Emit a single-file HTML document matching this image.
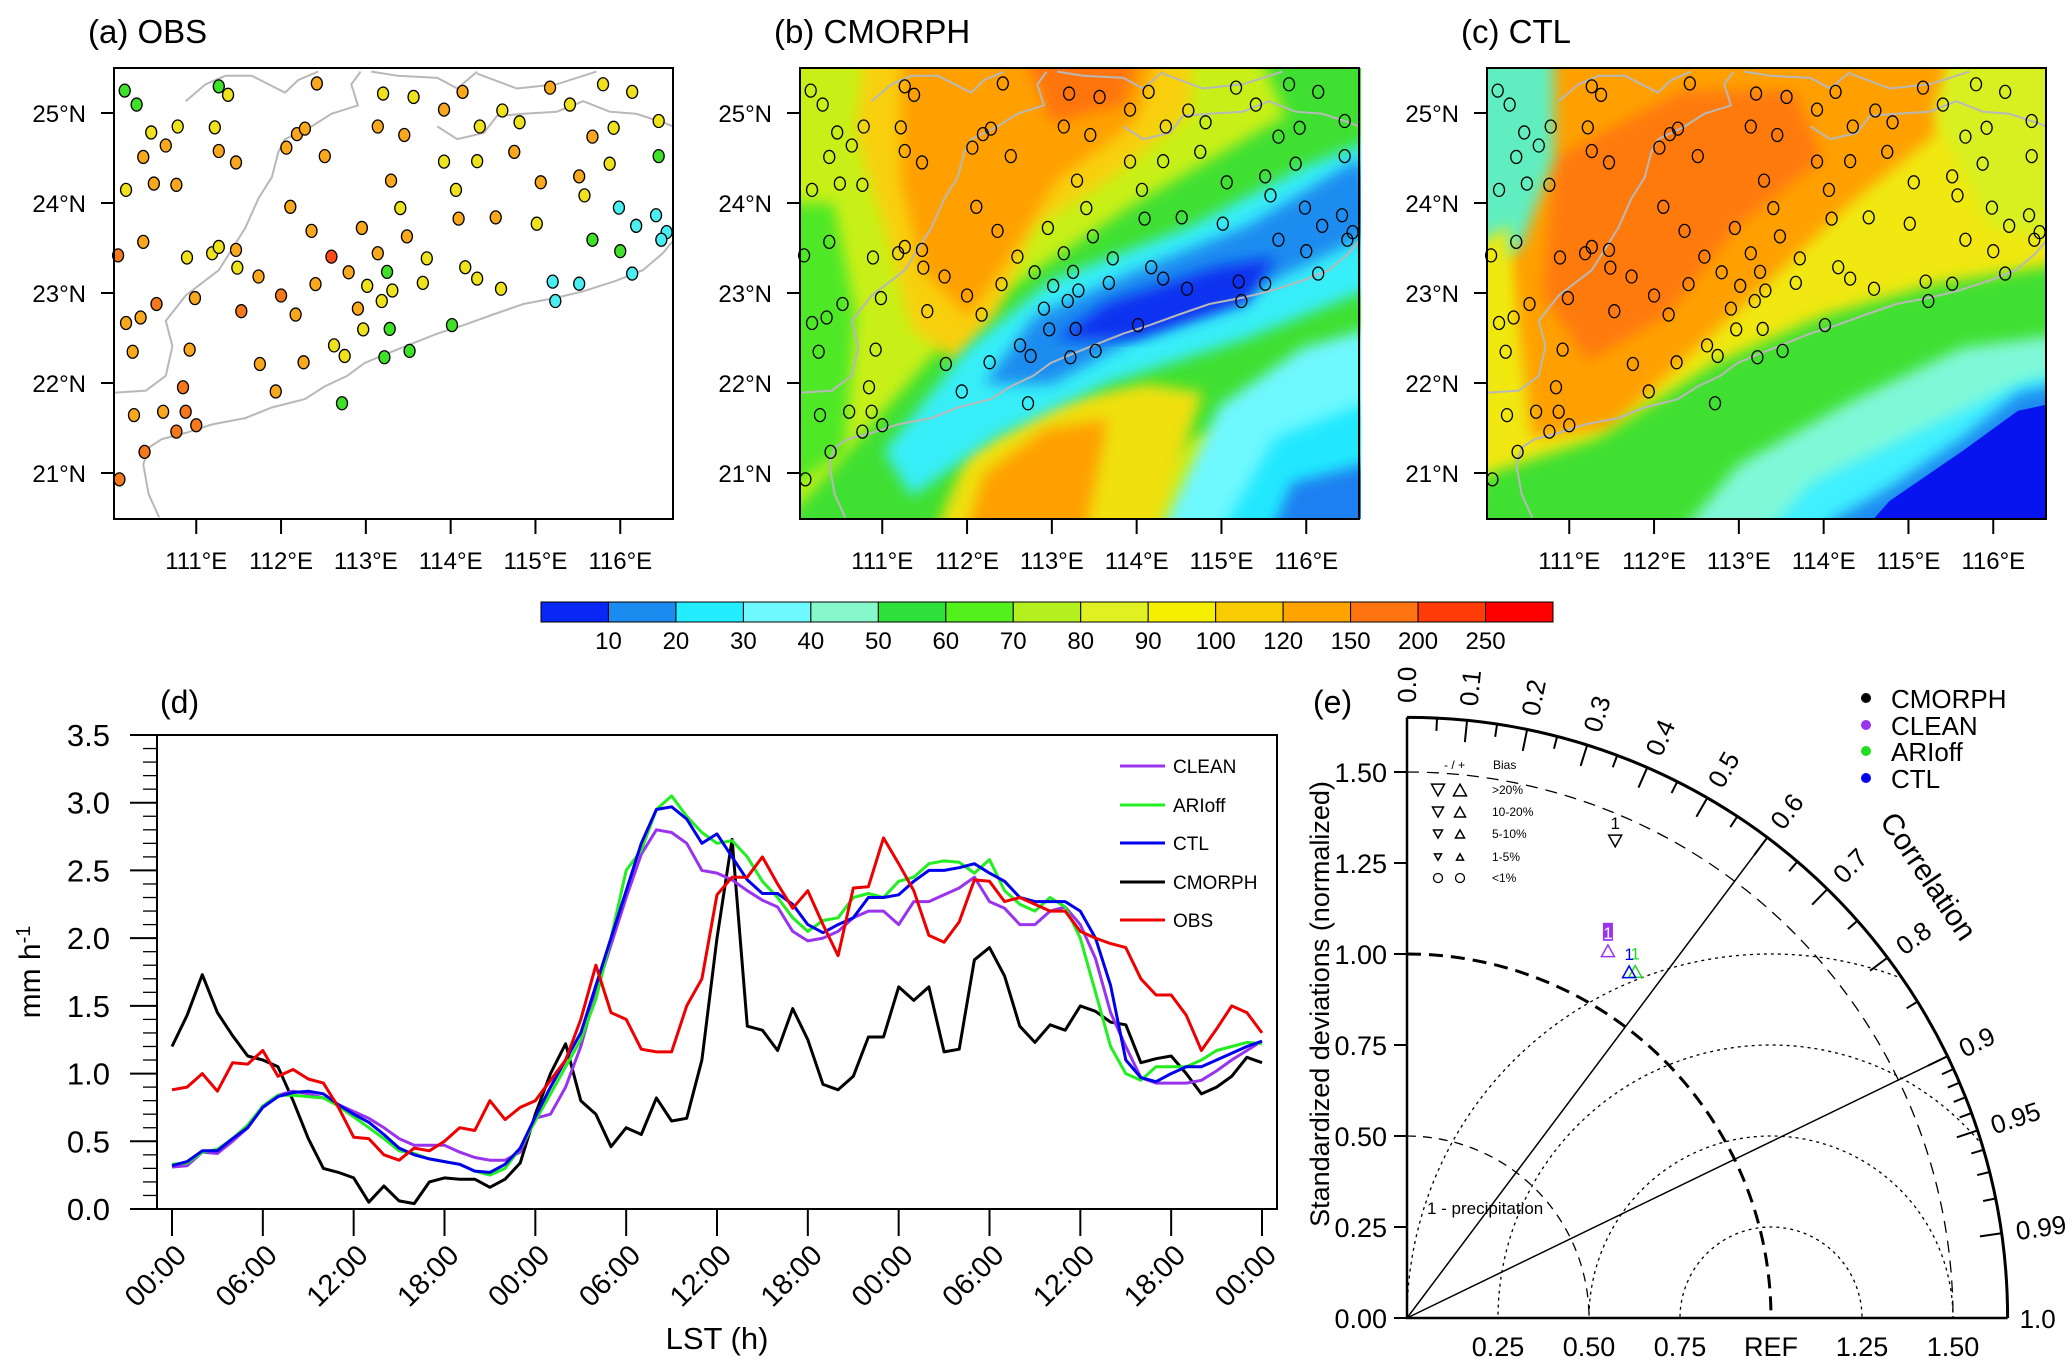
<!DOCTYPE html>
<html><head><meta charset="utf-8"><style>
html,body{margin:0;padding:0;background:#fff;width:2067px;height:1370px;overflow:hidden;}
svg{display:block;font-family:"Liberation Sans",Arial,sans-serif;}
</style></head><body>
<svg id="fig" width="2067" height="1370" viewBox="0 0 2067 1370" xmlns="http://www.w3.org/2000/svg">
<defs>
<filter id="blur6" x="-10%" y="-10%" width="120%" height="120%"><feGaussianBlur stdDeviation="7"/></filter>
<clipPath id="clipA"><rect x="114" y="68" width="559" height="451"/></clipPath>
<clipPath id="clipB"><rect x="800" y="68" width="561" height="451"/></clipPath>
<clipPath id="clipC"><rect x="1487" y="68" width="560" height="451"/></clipPath>
<clipPath id="clipT"><path d="M1407,1318 L2007,1318 A600,600 0 0 0 1407,718 Z"/></clipPath>
</defs>
<g id="maps"></g>
<g id="cbar"></g>
<g id="lineChart"></g>
<g id="taylor"></g>
</svg>
<script>
// ===== Line chart data (panel d), hourly values, 0..72 h =====
const hourTicks = ["00:00","06:00","12:00","18:00","00:00","06:00","12:00","18:00","00:00","06:00","12:00","18:00","00:00"];
const yTicks = [0.0,0.5,1.0,1.5,2.0,2.5,3.0,3.5];
const obsVals = [0.88,0.9,1.0,0.87,1.08,1.07,1.17,0.98,1.03,0.96,0.93,0.75,0.53,0.52,0.4,0.36,0.45,0.43,0.5,0.6,0.58,0.8,0.66,0.75,0.8,0.95,1.1,1.4,1.8,1.45,1.4,1.18,1.16,1.16,1.5,1.7,2.32,2.45,2.45,2.6,2.4,2.22,2.35,2.1,1.87,2.37,2.38,2.74,2.55,2.35,2.02,1.97,2.12,2.43,2.42,2.27,2.3,2.25,2.2,2.2,2.05,2.0,1.96,1.93,1.7,1.58,1.58,1.43,1.17,1.33,1.5,1.45,1.3];
const cmorphVals = [1.2,1.43,1.73,1.45,1.28,1.13,1.1,1.05,0.8,0.52,0.3,0.27,0.23,0.05,0.17,0.06,0.04,0.2,0.23,0.22,0.22,0.16,0.22,0.34,0.7,1.0,1.22,0.8,0.7,0.46,0.6,0.55,0.82,0.65,0.67,1.1,2.0,2.73,1.35,1.32,1.17,1.48,1.25,0.92,0.88,0.98,1.27,1.27,1.64,1.54,1.64,1.16,1.18,1.84,1.93,1.72,1.35,1.23,1.36,1.32,1.5,1.46,1.38,1.36,1.08,1.11,1.13,1.0,0.85,0.9,0.98,1.12,1.08];
const ctlVals = [0.32,0.35,0.43,0.43,0.52,0.6,0.75,0.83,0.86,0.87,0.85,0.77,0.7,0.64,0.55,0.45,0.4,0.37,0.35,0.33,0.28,0.27,0.33,0.45,0.68,0.9,1.1,1.3,1.65,2.0,2.35,2.7,2.95,2.97,2.88,2.7,2.77,2.6,2.43,2.33,2.33,2.25,2.1,2.04,2.1,2.15,2.3,2.3,2.32,2.42,2.5,2.5,2.52,2.55,2.48,2.42,2.3,2.27,2.27,2.27,2.2,2.0,1.65,1.1,0.97,0.94,1.0,1.05,1.05,1.1,1.15,1.2,1.24];
const arioffVals = [0.33,0.34,0.42,0.44,0.52,0.62,0.76,0.84,0.84,0.83,0.82,0.76,0.68,0.6,0.52,0.43,0.41,0.37,0.35,0.33,0.28,0.25,0.3,0.45,0.65,0.85,1.05,1.25,1.55,2.0,2.5,2.65,2.95,3.05,2.9,2.78,2.7,2.72,2.6,2.42,2.3,2.15,2.05,2.13,2.15,2.3,2.33,2.3,2.42,2.45,2.55,2.57,2.56,2.48,2.58,2.35,2.25,2.2,2.3,2.23,2.0,1.6,1.2,1.0,0.95,1.05,1.05,1.05,1.1,1.17,1.2,1.23,1.22];
const cleanVals = [0.31,0.32,0.42,0.41,0.5,0.6,0.76,0.84,0.87,0.85,0.82,0.77,0.72,0.67,0.6,0.52,0.47,0.47,0.47,0.42,0.38,0.36,0.36,0.42,0.67,0.7,0.9,1.2,1.6,1.95,2.3,2.62,2.8,2.78,2.7,2.5,2.48,2.43,2.35,2.28,2.23,2.05,1.98,2.0,2.05,2.15,2.2,2.2,2.1,2.27,2.27,2.32,2.37,2.45,2.27,2.22,2.1,2.1,2.2,2.23,2.1,1.85,1.45,1.2,0.97,0.93,0.93,0.93,0.95,1.02,1.1,1.17,1.24];
const seriesNames = ["CLEAN","ARIoff","CTL","CMORPH","OBS"];

// ===== Taylor diagram data (panel e) =====
const taylorNames = ["CMORPH","CLEAN","ARIoff","CTL"];
const taylorStd = [1.43,1.15,1.14,1.13];
const taylorCorr = [0.40,0.48,0.55,0.54];
const taylorBiasUp = [false,true,true,true];
const corrTicks = [0.0,0.1,0.2,0.3,0.4,0.5,0.6,0.7,0.8,0.9,0.95,0.99];
const stdTicks = [0.0,0.25,0.5,0.75,1.0,1.25,1.5];

// ===== Colorbar =====
const cbarLabels = ["10","20","30","40","50","60","70","80","90","100","120","150","200","250"];
const cbarColors = ["#0a28f5","#1a8cf0","#22eeff","#6ef8ff","#86f8cc","#2ee03a","#52f01c","#b4f020","#e0f020","#f6f000","#f8cc00","#ffa300","#ff7410","#ff3c08","#ff0000"];

const NS="http://www.w3.org/2000/svg";
function mk(tag, attrs, parent){const e=document.createElementNS(NS,tag);for(const k in attrs)e.setAttribute(k,attrs[k]);if(parent)parent.appendChild(e);return e;}
function txt(s, attrs, parent){const e=mk("text",attrs,parent);e.textContent=s;return e;}

// ================= MAPS =================
const maps=document.getElementById("maps");
const stRaw=[[94,215,"g"],[103,248,"g"],[165,205,"g"],[172,225,"y"],[239,198,"o"],[289,222,"y"],[312,230,"y"],[349,218,"o"],[415,208,"o"],[455,200,"y"],[477,218,"y"],[114,314,"y"],[134,300,"y"],[162,302,"y"],[125,345,"o"],[108,372,"o"],[165,358,"o"],[178,385,"o"],[224,318,"o"],[230,305,"o"],[216,350,"o"],[245,370,"o"],[285,300,"o"],[305,320,"o"],[335,260,"o"],[379,262,"y"],[362,300,"y"],[392,290,"y"],[430,248,"y"],[463,303,"y"],[447,324,"o"],[497,287,"y"],[497,370,"g"],[388,360,"o"],[360,382,"y"],[335,383,"y"],[460,388,"y"],[95,450,"y"],[116,435,"o"],[133,438,"o"],[295,428,"o"],[344,450,"y"],[408,432,"o"],[437,418,"o"],[441,463,"y"],[219,490,"o"],[302,493,"y"],[346,518,"o"],[374,515,"o"],[405,530,"y"],[467,492,"c"],[495,510,"c"],[480,535,"c"],[503,550,"c"],[499,568,"c"],[108,573,"o"],[89,605,"o2"],[141,610,"y"],[160,600,"y"],[165,585,"y"],[178,592,"o"],[179,634,"y"],[195,655,"o"],[235,547,"o"],[273,540,"o"],[307,560,"o"],[250,608,"r"],[285,600,"o"],[322,612,"y"],[263,645,"o"],[292,644,"g"],[351,633,"y"],[360,660,"y"],[238,673,"o"],[277,677,"y"],[296,688,"y"],[319,670,"y"],[378,684,"y"],[288,713,"y"],[212,700,"o2"],[147,706,"o"],[118,720,"o2"],[106,752,"o"],[95,765,"o"],[182,737,"o2"],[223,745,"o"],[270,731,"o"],[274,780,"y"],[294,779,"g"],[341,770,"g"],[417,667,"c"],[437,672,"c"],[419,713,"c"],[477,648,"c"],[468,595,"g"],[447,568,"g"],[143,828,"o"],[100,833,"o"],[252,818,"y"],[260,843,"y"],[290,846,"g"],[309,831,"g"],[196,862,"o"],[229,858,"o"],[138,917,"o2"],[208,927,"o"],[258,955,"g"],[101,983,"o"],[123,975,"o"],[140,975,"o2"],[133,1022,"o2"],[148,1007,"o2"],[109,1070,"o2"],[90,1135,"o2"]];
const stCol={g:"#3ee028",y:"#eee21c",o:"#f9a81e",o2:"#f5781c",r:"#ff4a14",c:"#48eef0"};
function toLL(zx,zy){return [111+(zx-148)/64, 25-(zy-268)/213];}
const coastRaw=[[120,1225],[112,1170],[108,1100],[112,1060],[122,1040],[140,1025],[160,1005],[185,990],[205,965],[230,945],[245,915],[262,890],[275,860],[290,840],[310,815],[330,790],[350,770],[372,745],[395,720],[420,705],[440,690],[465,665],[485,640],[500,600],[508,570]];
const borderRaw=[[[86,930],[110,925],[125,890],[130,820],[125,760],[140,700],[165,640],[175,590],[185,540],[195,470],[205,420],[210,360],[215,330],[235,300],[250,270],[270,250],[265,200],[272,170]],[[140,240],[155,200],[170,180],[190,180],[215,220],[225,190],[240,170]],[[280,170],[300,180],[330,185],[345,210],[360,170]],[[330,300],[345,330],[365,315],[375,275],[395,270],[420,265],[440,240],[460,265],[480,270],[500,290],[508,300]],[[360,175],[390,210],[420,200],[450,170]]];

function panelMap(x0, name, title, kind){
  const w=559,h=451,y0=68;
  const g=mk("g",{},maps);
  
  
  const lx=lon=>x0+(lon-110.03)*84.8;
  const ly=lat=>y0+(25.5-lat)*90;
  const clipId=kind==="a"?"clipA":(kind==="b"?"clipB":"clipC");
  const field=mk("g",{"clip-path":"url(#"+clipId+")"},g);
  
  
  function poly(pts,fill,blur){
    const d=pts.map((p,i)=>(i?"L":"M")+(x0+p[0]*w).toFixed(1)+","+(y0+p[1]*h).toFixed(1)).join(" ")+"Z";
    const p=mk("path",{d:d,fill:fill},field);
    if(blur)p.setAttribute("filter","url(#blur6)");
    
    
  }
  if(kind==="a"){
    mk("rect",{x:x0,y:y0,width:w,height:h,fill:"#fff"},field);
  } else if(kind==="b"){
    mk("rect",{x:x0,y:y0,width:w,height:h,fill:"#c8f018"},field);
    poly([[-0.1,1.1],[0.05,0.9],[0.3,0.55],[0.6,0.3],[0.85,0.12],[1.1,0.0],[1.1,0.7],[0.7,0.82],[0.45,1.1]],"#40e030",true);
    poly([[-0.1,0.3],[0.06,0.3],[0.1,0.55],[0.08,0.85],[-0.1,1.0]],"#50e828",true);
    poly([[0.12,-0.1],[0.7,-0.1],[0.7,0.1],[0.55,0.25],[0.42,0.35],[0.35,0.55],[0.28,0.65],[0.2,0.58],[0.15,0.35],[0.1,0.15]],"#f8d010",true);
    poly([[0.18,-0.1],[0.66,-0.1],[0.6,0.12],[0.46,0.25],[0.36,0.45],[0.3,0.55],[0.22,0.45],[0.18,0.25]],"#ffa000",true);
    poly([[0.38,-0.1],[0.62,-0.1],[0.58,0.08],[0.45,0.12]],"#ff7410",true);
    poly([[0.8,-0.1],[1.1,-0.1],[1.1,0.1],[0.9,0.2]],"#40e030",true);
    poly([[0.22,1.1],[0.3,0.85],[0.45,0.74],[0.62,0.7],[0.72,0.72],[0.62,1.1]],"#f0e010",true);
    poly([[0.28,1.1],[0.33,0.9],[0.44,0.8],[0.55,0.78],[0.5,1.1]],"#ffa000",true);
    poly([[0.15,0.85],[0.3,0.62],[0.45,0.47],[0.7,0.35],[0.9,0.22],[1.1,0.12],[1.1,0.45],[0.8,0.6],[0.55,0.7],[0.35,0.82],[0.2,0.95]],"#38eef8",true);
    poly([[0.33,0.7],[0.42,0.55],[0.6,0.45],[0.8,0.35],[1.0,0.2],[1.05,0.35],[0.8,0.5],[0.6,0.6],[0.45,0.7]],"#1a8cf0",true);
    poly([[0.46,0.6],[0.55,0.52],[0.75,0.44],[0.85,0.42],[0.8,0.52],[0.6,0.6]],"#0a30f0",true);
    poly([[0.62,1.1],[0.75,0.75],[0.9,0.62],[1.1,0.55],[1.1,1.1]],"#6ef8ff",true);
    poly([[0.72,1.1],[0.85,0.82],[1.1,0.7],[1.1,1.1]],"#22e8ff",true);
    poly([[0.82,1.1],[0.88,0.92],[1.1,0.85],[1.1,1.1]],"#1a80f0",true);
  } else {
    mk("rect",{x:x0,y:y0,width:w,height:h,fill:"#f0e810"},field);
    poly([[0.0,-0.1],[0.85,-0.1],[0.8,0.15],[0.65,0.3],[0.5,0.48],[0.35,0.65],[0.22,0.8],[0.08,0.82],[0.04,0.4]],"#ffa000",true);
    poly([[0.12,0.2],[0.35,0.05],[0.55,0.05],[0.6,0.2],[0.45,0.35],[0.32,0.55],[0.18,0.65],[0.1,0.5]],"#ff7a10",true);
    poly([[-0.1,-0.1],[0.12,-0.1],[0.12,0.2],[0.06,0.4],[-0.1,0.5]],"#60eec0",true);
    poly([[-0.1,0.45],[0.04,0.35],[0.03,0.7],[-0.1,0.8]],"#f0e810",true);
    poly([[0.85,-0.1],[1.1,-0.1],[1.1,0.4],[0.9,0.35],[0.8,0.1]],"#d8f020",true);
    poly([[-0.1,1.1],[0.0,0.9],[0.2,0.82],[0.4,0.66],[0.6,0.55],[0.8,0.48],[1.1,0.42],[1.1,1.1]],"#40e030",true);
    poly([[0.3,1.1],[0.45,0.88],[0.65,0.74],[0.85,0.62],[1.1,0.58],[1.1,1.1]],"#80f8d8",true);
    poly([[0.45,1.1],[0.58,0.92],[0.78,0.8],[0.95,0.7],[1.1,0.65],[1.1,1.1]],"#40f0ff",true);
    poly([[0.56,1.1],[0.62,1.0],[0.72,0.93],[0.85,0.82],[0.95,0.72],[1.1,0.68],[1.1,1.1]],"#1a8cf0",true);
    poly([[0.62,1.1],[0.72,0.96],[0.85,0.85],[0.95,0.76],[1.1,0.72],[1.1,1.1]],"#0814f0",false);
  }
  const lines=borderRaw.concat([coastRaw]);
  lines.forEach((ln,i)=>{
    const d=ln.map((p,j)=>{const ll=toLL(p[0],p[1]);return (j?"L":"M")+lx(ll[0]).toFixed(1)+","+ly(ll[1]).toFixed(1);}).join(" ");
    const p=mk("path",{d:d,fill:"none",stroke:"#b8b8b8","stroke-width":2,"clip-path":"url(#"+clipId+")"},g);
    
    
  });
  stRaw.forEach(s=>{
    const ll=toLL(s[0],s[1]);
    const c=mk("ellipse",{cx:lx(ll[0]),cy:ly(ll[1]),rx:5.5,ry:6.5,fill:kind==="a"?stCol[s[2]]:"none",stroke:"#000","stroke-width":1.3},g);
    
    
  });
  const box=mk("rect",{x:x0,y:y0,width:w,height:h,fill:"none",stroke:"#000","stroke-width":2},g);
  
  
  for(let lat=21;lat<=25;lat++){
    const t=mk("line",{x1:x0-13,x2:x0,y1:ly(lat),y2:ly(lat),stroke:"#000","stroke-width":2},g);
    
    
    const l=txt(lat+"°N",{x:x0-28,y:ly(lat)+9,"font-size":24,"text-anchor":"end"},g);
    
    
  }
  for(let lon=111;lon<=116;lon++){
    const t=mk("line",{x1:lx(lon),x2:lx(lon),y1:y0+h,y2:y0+h+15,stroke:"#000","stroke-width":2},g);
    
    
    const l=txt(lon+"°E",{x:lx(lon),y:569,"font-size":24,"text-anchor":"middle"},g);
    
    
  }
  const tt=txt(title,{x:x0-26,y:43,"font-size":33},g);
  
  
}
panelMap(114,"map-obs","(a) OBS","a");
panelMap(800,"map-cmorph","(b) CMORPH","b");
panelMap(1487,"map-ctl","(c) CTL","c");

// ================= COLORBAR =================
const cb=document.getElementById("cbar");
const cbX0=541, cbW=(1553-541)/cbarColors.length;
cbarColors.forEach((c,i)=>{
  const r=mk("rect",{x:cbX0+i*cbW,y:602,width:cbW,height:20,fill:c,stroke:"#000","stroke-width":1},cb);
  
  
});
cbarLabels.forEach((s,i)=>{
  const t=txt(s,{x:cbX0+(i+1)*cbW,y:649,"font-size":24,"text-anchor":"middle"},cb);
  
  
});

// ================= LINE CHART =================
const lc=document.getElementById("lineChart");
const L={left:157,right:1277,top:735,bottom:1209};
const xS=h=>172+h*(1090/72);
const yS=v=>L.bottom-v*(L.bottom-L.top)/3.5;
const pd=txt("(d)",{x:160,y:713,"font-size":32},lc);


const frame=mk("rect",{x:L.left,y:L.top,width:L.right-L.left,height:L.bottom-L.top,fill:"none",stroke:"#000","stroke-width":2},lc);


for(let k=0;k<=35;k++){
  const v=k/10, major=(k%5===0);
  const t=mk("line",{x1:L.left-(major?27:14),x2:L.left,y1:yS(v),y2:yS(v),stroke:"#000","stroke-width":major?2:1.3},lc);
  
  
}
yTicks.forEach(v=>{
  const t=txt(v.toFixed(1),{x:110,y:yS(v)+11,"font-size":31,"text-anchor":"end"},lc);
  
  
});
hourTicks.forEach((s,i)=>{
  const x=xS(i*6);
  const t=mk("line",{x1:x,x2:x,y1:L.bottom,y2:L.bottom+27,stroke:"#000","stroke-width":2},lc);
  
  
  const l=txt(s,{x:x+16,y:L.bottom+48,"font-size":29,"text-anchor":"end",transform:"rotate(-45 "+(x+16)+" "+(L.bottom+48)+")"},lc);
  
  
});
const xt=txt("LST (h)",{x:717,y:1349,"font-size":31,"text-anchor":"middle"},lc);


const yt=mk("text",{x:0,y:0,"font-size":30,"text-anchor":"middle",transform:"translate(40 972) rotate(-90)"},lc);


yt.innerHTML='mm h<tspan dy="-10" font-size="20">-1</tspan>';
const seriesData=[cleanVals,arioffVals,ctlVals,cmorphVals,obsVals];
const seriesColors=["#9933ee","#22ee22","#0000ee","#000000","#ee0000"];
const drawOrder=[3,0,1,2,4];
drawOrder.forEach(si=>{
  const d=seriesData[si].map((v,i)=>(i?"L":"M")+xS(i).toFixed(1)+","+yS(v).toFixed(1)).join(" ");
  const p=mk("path",{d:d,fill:"none",stroke:seriesColors[si],"stroke-width":3,"stroke-linejoin":"round"},lc);
  
  
});
const legY=[766,805,843,882,920];
seriesNames.forEach((n,i)=>{
  const ln=mk("line",{x1:1120,x2:1165,y1:legY[i],y2:legY[i],stroke:seriesColors[i],"stroke-width":3},lc);
  
  
  const t=txt(n,{x:1173,y:legY[i]+7,"font-size":19},lc);
  
  
});

// ================= TAYLOR DIAGRAM =================
const tg=document.getElementById("taylor");
const O={x:1407,y:1318}, S=364, RMAX=1.65;
const tx=(r,c)=>O.x+r*c*S;
const ty=(r,c)=>O.y-r*Math.sqrt(1-c*c)*S;
const pe=txt("(e)",{x:1313,y:713,"font-size":32},tg);


const rmsG=mk("g",{"clip-path":"url(#clipT)"},tg);
[0.25,0.5,0.75,1.0].forEach(r=>{
  const c=mk("circle",{cx:O.x+S,cy:O.y,r:r*S,fill:"none",stroke:"#000","stroke-width":1.3,"stroke-dasharray":"3 4"},rmsG);
  
  
});
[[0.5,1.3,"9 7"],[1.0,3,"14 8"],[1.5,1.3,"12 8"]].forEach(a=>{
  const r=a[0]*S;
  const p=mk("path",{d:"M"+O.x+","+(O.y-r)+" A"+r+","+r+" 0 0 1 "+(O.x+r)+","+O.y,fill:"none",stroke:"#000","stroke-width":a[1],"stroke-dasharray":a[2]},tg);
  
  
});
[0.6,0.9].forEach(c=>{
  const l=mk("line",{x1:O.x,y1:O.y,x2:tx(RMAX,c),y2:ty(RMAX,c),stroke:"#000","stroke-width":1.5},tg);
  
  
});
const ax=mk("path",{d:"M"+O.x+","+(O.y-RMAX*S)+" L"+O.x+","+O.y+" L"+(O.x+RMAX*S)+","+O.y,fill:"none",stroke:"#000","stroke-width":2.5},tg);


const arc=mk("path",{d:"M"+O.x+","+(O.y-RMAX*S)+" A"+(RMAX*S)+","+(RMAX*S)+" 0 0 1 "+(O.x+RMAX*S)+","+O.y,fill:"none",stroke:"#000","stroke-width":3},tg);


stdTicks.forEach(v=>{
  const t=mk("line",{x1:O.x-13,x2:O.x,y1:O.y-v*S,y2:O.y-v*S,stroke:"#000","stroke-width":2},tg);
  
  
  const l=txt(v.toFixed(2),{x:O.x-20,y:O.y-v*S+10,"font-size":27,"text-anchor":"end"},tg);
  
  
  if(v>0){
    const xl=txt(v===1.0?"REF":v.toFixed(2),{x:O.x+v*S,y:O.y+38,"font-size":27,"text-anchor":"middle"},tg);
    
    
  }
});
const mino=[];
for(let k=0;k<19;k++)mino.push(k*0.05);
for(let k=91;k<=99;k++)mino.push(k/100);
mino.forEach(c=>{
  const major=corrTicks.some(m=>Math.abs(m-c)<1e-6);
  const r1=major?RMAX-0.06:RMAX-0.035;
  const t=mk("line",{x1:tx(r1,c),y1:ty(r1,c),x2:tx(RMAX,c),y2:ty(RMAX,c),stroke:"#000","stroke-width":2},tg);
  
  
});
corrTicks.forEach(c=>{
  const ang=Math.acos(c)*180/Math.PI;
  const x=tx(RMAX+0.04,c), y=ty(RMAX+0.04,c);
  const l=txt(c===0?"0.0":String(c),{x:x,y:y,"font-size":26,transform:"rotate("+(-ang)+" "+x+" "+y+") translate(0 9)"},tg);
  
  
});
const one=txt("1.0",{x:O.x+RMAX*S+12,y:O.y+10,"font-size":26},tg);


const corrT=txt("Correlation",{x:0,y:0,"font-size":30,"text-anchor":"middle",transform:"translate(1920 882) rotate(56)"},tg);


const sdT=txt("Standardized deviations (normalized)",{x:0,y:0,"font-size":27,"text-anchor":"middle",transform:"translate(1329 1004) rotate(-90)"},tg);


const prec=txt("1 - precipitation",{x:1427,y:1214,"font-size":17},tg);


function tri(x,y,s,up,color,parent,fill){
  const h=s*0.9;
  const d=up?"M"+(x-s/2)+","+(y+h/2)+" L"+(x+s/2)+","+(y+h/2)+" L"+x+","+(y-h/2)+"Z":"M"+(x-s/2)+","+(y-h/2)+" L"+(x+s/2)+","+(y-h/2)+" L"+x+","+(y+h/2)+"Z";
  return mk("path",{d:d,fill:fill||"none",stroke:color,"stroke-width":1.5},parent);
}
const bl=mk("g",{},tg);


const bh=txt("- / +",{x:1444,y:769,"font-size":12},bl);


const bb=txt("Bias",{x:1493,y:769,"font-size":12},bl);


const bRows=[">20%","10-20%","5-10%","1-5%","<1%"], bSize=[13,11,9,7,0], bYs=[790,812,834,857,878];
bRows.forEach((s,i)=>{
  if(bSize[i]>0){
    const a=tri(1438,bYs[i],bSize[i],false,"#000",bl);
    
    
    const b=tri(1460,bYs[i],bSize[i],true,"#000",bl);
    
    
  } else {
    const a=mk("circle",{cx:1438,cy:bYs[i],r:4.5,fill:"none",stroke:"#000","stroke-width":1.3},bl);
    
    
    const b=mk("circle",{cx:1460,cy:bYs[i],r:4.5,fill:"none",stroke:"#000","stroke-width":1.3},bl);
    
    
  }
  const t=txt(s,{x:1492,y:bYs[i]+4,"font-size":12},bl);
  
  
});
const tColors=["#000000","#9933ee","#22dd22","#0000ee"];
taylorNames.forEach((n,i)=>{
  const x=tx(taylorStd[i],taylorCorr[i]), y=ty(taylorStd[i],taylorCorr[i]);
  const m=tri(x,y,13,taylorBiasUp[i],tColors[i],tg);
  
  
  if(n==="CLEAN"){
    const bx=mk("rect",{x:x-5,y:y-28,width:10,height:18,fill:tColors[i]},tg);
    
    
  }
  const l=txt("1",{x:x,y:y-12,"font-size":17,"text-anchor":"middle",fill:n==="CLEAN"?"#ffffff":tColors[i]},tg);
  
  
});
const tLegY=[706,733,759,786];
taylorNames.forEach((n,i)=>{
  const d=mk("circle",{cx:1866,cy:tLegY[i]-8,r:5,fill:tColors[i]},tg);
  
  
  const t=txt(n,{x:1891,y:tLegY[i]+2,"font-size":26},tg);
  
  
});
</script>
</body></html>
